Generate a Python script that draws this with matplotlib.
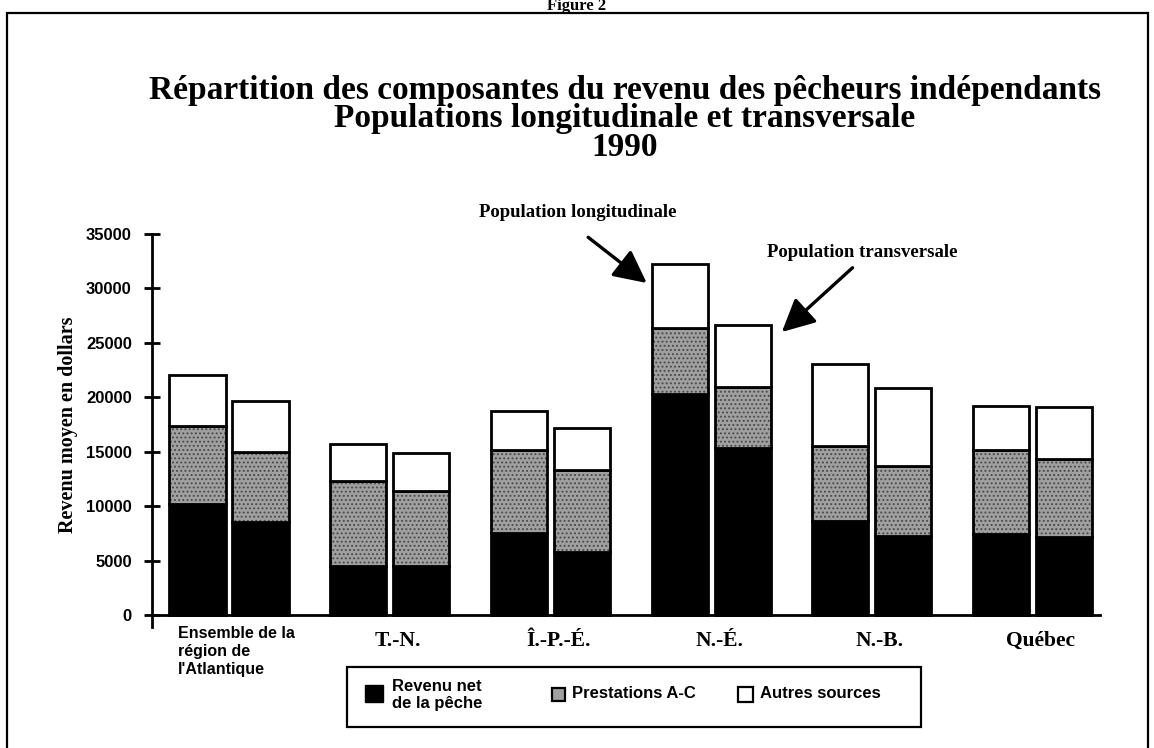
import numpy as np
import matplotlib
matplotlib.use('Agg')
import matplotlib.pyplot as plt
import matplotlib.patches as patches

# donnees (dollars)
regions = ["Ensemble de la\nrégion de\nl'Atlantique", 'T.-N.', 'Î.-P.-É.', 'N.-É.', 'N.-B.', 'Québec']

# population longitudinale
net_L = [10200, 4500, 7500, 20300, 8600, 7400]
prest_L = [7150, 7800, 7700, 6100, 6950, 7800]
autres_L = [4700, 3400, 3500, 5800, 7550, 4000]

# population transversale
net_T = [8500, 4500, 5800, 15300, 7250, 7200]
prest_T = [6450, 6900, 7500, 5600, 6400, 7150]
autres_T = [4750, 3450, 3900, 5700, 7200, 4750]

yticks = [0, 5000, 10000, 15000, 20000, 25000, 30000, 35000]

SERIF = 'Liberation Serif'
SANS = 'Liberation Sans'
W, H = 1154, 748

def fx(px):
    return px / W

def fy(py):
    return 1 - py / H

plt.rcParams['hatch.linewidth'] = 0.9

fig = plt.figure(figsize=(W / 100, H / 100), dpi=100)
ax = fig.add_axes([fx(152), 1 - 627 / H, (1100 - 152) / W, (627 - 234) / H])

x = np.arange(len(regions))
w = 0.349
off = 0.196
gray = '#a0a0a0'

def pile(xpos, net, prest, autres):
    net = np.array(net)
    prest = np.array(prest)
    autres = np.array(autres)
    ax.bar(xpos, net, w, color='black', edgecolor='black', lw=2)
    ax.bar(xpos, prest, w, bottom=net, color=gray, hatch='....', edgecolor='#4a4a4a', lw=0)
    ax.bar(xpos, prest, w, bottom=net, fill=False, edgecolor='black', lw=2)
    ax.bar(xpos, autres, w, bottom=net + prest, color='white', edgecolor='black', lw=2)
    return net + prest + autres

tot_L = pile(x - off, net_L, prest_L, autres_L)
tot_T = pile(x + off, net_T, prest_T, autres_T)

ax.set_xlim(-0.479, 5.42)
ax.set_ylim(-1100, 35000)
ax.spines['top'].set_visible(False)
ax.spines['right'].set_visible(False)
ax.spines['bottom'].set_position(('data', 0))
ax.spines['bottom'].set_linewidth(2)
ax.spines['left'].set_linewidth(2)
ax.set_xticks([])
ax.set_yticks(yticks)
ax.set_yticklabels([str(v) for v in yticks], fontfamily=SANS, fontweight='bold', fontsize=12)
ax.tick_params(axis='y', direction='inout', length=11, width=2, pad=9)

# etiquettes des regions
ax.text(-0.318, -1000, regions[0], ha='left', va='top', fontfamily=SANS,
        fontweight='bold', fontsize=11.5, linespacing=1.25)
for i in range(1, len(regions)):
    ax.text(i + 0.05, -1500, regions[i], ha='center', va='top', fontfamily=SERIF,
            fontweight='bold', fontsize=15.5)

# fleches
ne = 3
ax.text(2.17, 37000, 'Population longitudinale', ha='center', va='center',
        fontfamily=SERIF, fontweight='bold', fontsize=13.5, clip_on=False)
ax.annotate('', xy=(ne - off - w / 2 - 0.03, tot_L[ne] - 1700), xytext=(2.235, 34700),
            arrowprops=dict(arrowstyle='-|>,head_length=1.0,head_width=0.5',
                            color='black', lw=2.4, mutation_scale=20, shrinkA=0, shrinkB=0),
            annotation_clip=False)
ax.text(3.94, 33300, 'Population transversale', ha='center', va='center',
        fontfamily=SERIF, fontweight='bold', fontsize=13.5, clip_on=False)
ax.annotate('', xy=(ne + off + w / 2 + 0.07, tot_T[ne] - 600), xytext=(3.88, 31900),
            arrowprops=dict(arrowstyle='-|>,head_length=1.0,head_width=0.5',
                            color='black', lw=2.4, mutation_scale=20, shrinkA=0, shrinkB=0),
            annotation_clip=False)

# titres
fig.text(fx(577), fy(10), 'Figure 2', ha='center', va='baseline', fontfamily=SERIF,
         fontweight='bold', fontsize=12)
fig.text(fx(625), fy(91), 'Répartition des composantes du revenu des pêcheurs indépendants',
         ha='center', va='center', fontfamily=SERIF, fontweight='bold', fontsize=24)
fig.text(fx(625), fy(119), 'Populations longitudinale et transversale',
         ha='center', va='center', fontfamily=SERIF, fontweight='bold', fontsize=24)
fig.text(fx(625), fy(148), '1990', ha='center', va='center', fontfamily=SERIF,
         fontweight='bold', fontsize=24)
fig.text(fx(68), fy(425), 'Revenu moyen en dollars', rotation=90, ha='center', va='center',
         fontfamily=SERIF, fontweight='bold', fontsize=14.5)

# cadre
def rect(x0, y0, x1, y1, **kw):
    r = patches.Rectangle((fx(x0), fy(y1)), (x1 - x0) / W, (y1 - y0) / H,
                          transform=fig.transFigure, **kw)
    fig.add_artist(r)

rect(7, 13, 1148, 770, fill=False, edgecolor='black', lw=1.6)

# legende
rect(347, 667, 921, 727, facecolor='white', edgecolor='black', lw=1.6)
rect(365, 685, 383, 702, facecolor='black', edgecolor='black', lw=1)
fig.text(fx(392), fy(695), 'Revenu net\nde la pêche', ha='left', va='center', fontfamily=SANS,
         fontweight='bold', fontsize=12, linespacing=1.1)
rect(552, 688, 565, 701, facecolor=gray, edgecolor='black', lw=1.6)
fig.text(fx(572), fy(694), 'Prestations A-C', ha='left', va='center', fontfamily=SANS,
         fontweight='bold', fontsize=12)
rect(738, 687, 753, 702, facecolor='white', edgecolor='black', lw=1.6)
fig.text(fx(760), fy(694), 'Autres sources', ha='left', va='center', fontfamily=SANS,
         fontweight='bold', fontsize=12)

fig.savefig('out.png', dpi=100, facecolor='white')
